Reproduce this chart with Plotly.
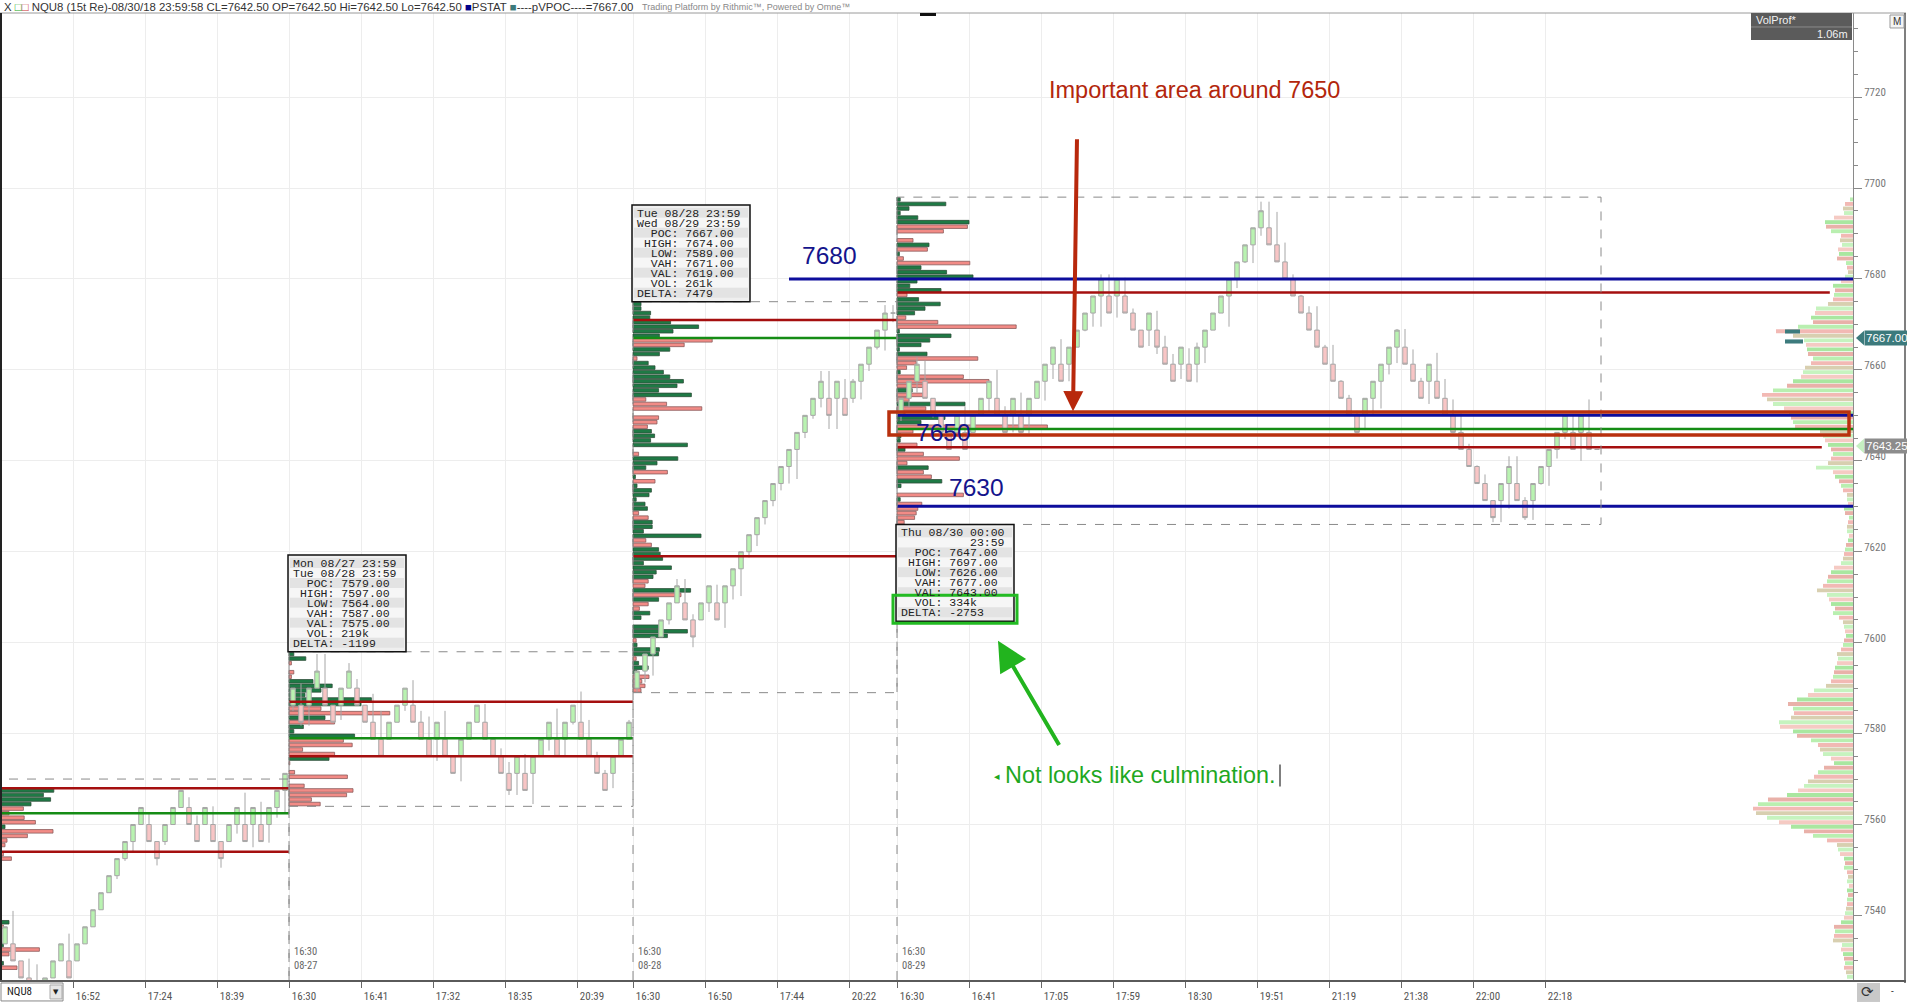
import plotly.graph_objects as go

# picture frame: 8 px per renko bar, 4.556 px per point
W, H = 1907, 1004
ML, MR, MT, MB = 1, 54, 13, 22
PW, PH = W - ML - MR, H - MT - MB
X_MAX = PW / 8.0
Y_MIN, Y_MAX = 7525.8, 7738.5
PT = PH / (Y_MAX - Y_MIN)

NARROW = 'Liberation Sans Narrow, Arial Narrow, Roboto Condensed, Liberation Sans, sans-serif'
SANS = 'Liberation Sans, Arial, sans-serif'
MONO = 'Liberation Mono, Courier New, monospace'


def dx(px):
    return (px - ML) / PW * X_MAX


def dy(py):
    return Y_MAX - (py - MT) / PT


def ppx(px):
    return (px - ML) / PW


def ppy(py):
    return (H - MB - py) / PH


# ---- NQU8 15 tick renko bricks
opens = [
    7533.75, 7533.75, 7530, 7526.25, 7522.5, 7522.5, 7526.25, 7530, 7530, 7530, 7533.75, 7537.5, 7541.25, 7545,
    7548.75, 7552.5, 7556.25, 7560, 7560, 7556.25, 7556.25, 7560, 7563.75, 7563.75, 7560, 7560, 7560, 7556.25,
    7556.25, 7560, 7560, 7560, 7560, 7560, 7563.75, 7567.5,
    7586.25, 7586.25, 7586.25, 7590, 7590, 7586.25, 7586.25, 7590, 7590, 7586.25, 7582.5, 7578.75, 7578.75, 7582.5,
    7586.25, 7586.25, 7582.5, 7578.75, 7578.75, 7578.75, 7575, 7575, 7578.75, 7582.5, 7582.5, 7578.75, 7575, 7571.25,
    7571.25, 7571.25, 7571.25, 7575, 7578.75, 7578.75, 7578.75, 7582.5, 7582.5, 7578.75, 7575, 7571.25, 7571.25,
    7575, 7578.75,
    7590, 7593.75, 7597.5, 7601.25, 7605, 7608.75, 7608.75, 7605, 7605, 7608.75, 7608.75, 7608.75, 7612.5, 7616.25,
    7620, 7623.75, 7627.5, 7631.25, 7635, 7638.75, 7642.5, 7646.25, 7650, 7653.75, 7653.75, 7653.75, 7653.75,
    7653.75, 7657.5, 7661.25, 7665, 7668.75, 7672.5,
    7650, 7653.75, 7657.5, 7657.5, 7653.75, 7650, 7646.25, 7646.25, 7646.25, 7646.25, 7650, 7653.75, 7653.75, 7650,
    7650, 7650, 7650, 7653.75, 7657.5, 7661.25, 7661.25, 7661.25, 7665, 7668.75, 7672.5, 7676.25, 7676.25, 7676.25,
    7676.25, 7672.5, 7668.75, 7668.75, 7668.75, 7665, 7661.25, 7661.25, 7661.25, 7661.25, 7665, 7668.75, 7672.5,
    7676.25, 7680, 7683.75, 7687.5, 7691.25, 7691.25, 7687.5, 7683.75, 7680, 7676.25, 7672.5, 7668.75, 7665,
    7661.25, 7657.5, 7653.75, 7650, 7650, 7653.75, 7657.5, 7661.25, 7665, 7665, 7661.25, 7657.5, 7657.5, 7657.5,
    7653.75, 7650, 7646.25, 7642.5, 7638.75, 7635, 7631.25, 7631.25, 7635, 7635, 7631.25, 7631.25, 7635, 7638.75,
    7642.5, 7646.25, 7646.25, 7646.25, 7646.25, 7642.5,
]
closes = [
    7537.5, 7530, 7526.25, 7522.5, 7518.75, 7526.25, 7530, 7533.75, 7526.25, 7533.75, 7537.5, 7541.25, 7545, 7548.75,
    7552.5, 7556.25, 7560, 7563.75, 7556.25, 7552.5, 7560, 7563.75, 7567.5, 7560, 7556.25, 7563.75, 7556.25, 7552.5,
    7560, 7563.75, 7556.25, 7563.75, 7556.25, 7563.75, 7567.5, 7571.25,
    7590, 7582.5, 7590, 7593.75, 7586.25, 7582.5, 7590, 7593.75, 7586.25, 7582.5, 7578.75, 7575, 7582.5, 7586.25,
    7590, 7582.5, 7578.75, 7575, 7582.5, 7575, 7571.25, 7578.75, 7582.5, 7586.25, 7578.75, 7575, 7571.25, 7567.5,
    7575, 7567.5, 7575, 7578.75, 7582.5, 7575, 7582.5, 7586.25, 7578.75, 7575, 7571.25, 7567.5, 7575, 7578.75,
    7582.5,
    7593.75, 7597.5, 7601.25, 7605, 7608.75, 7612.5, 7605, 7601.25, 7608.75, 7612.5, 7605, 7612.5, 7616.25, 7620,
    7623.75, 7627.5, 7631.25, 7635, 7638.75, 7642.5, 7646.25, 7650, 7653.75, 7657.5, 7650, 7657.5, 7650, 7657.5,
    7661.25, 7665, 7668.75, 7672.5, 7672.5,
    7653.75, 7657.5, 7661.25, 7653.75, 7650, 7646.25, 7642.5, 7650, 7642.5, 7650, 7653.75, 7657.5, 7650, 7646.25,
    7653.75, 7646.25, 7653.75, 7657.5, 7661.25, 7665, 7657.5, 7665, 7668.75, 7672.5, 7676.25, 7680, 7672.5, 7680,
    7672.5, 7668.75, 7665, 7672.5, 7665, 7661.25, 7657.5, 7665, 7657.5, 7665, 7668.75, 7672.5, 7676.25, 7680,
    7683.75, 7687.5, 7691.25, 7695, 7687.5, 7683.75, 7680, 7676.25, 7672.5, 7668.75, 7665, 7661.25, 7657.5,
    7653.75, 7650, 7646.25, 7653.75, 7657.5, 7661.25, 7665, 7668.75, 7661.25, 7657.5, 7653.75, 7661.25, 7653.75,
    7650, 7646.25, 7642.5, 7638.75, 7635, 7631.25, 7627.5, 7635, 7638.75, 7631.25, 7627.5, 7635, 7638.75, 7642.5,
    7646.25, 7650, 7642.5, 7650, 7642.5, 7642.5,
]
highs = [
    7537.5, 7541, 7530, 7530.5, 7529.25, 7526.25, 7530, 7533.75, 7536, 7533.75, 7537.5, 7541.25, 7545, 7548.75,
    7552.5, 7556.25, 7560, 7563.75, 7562.5, 7556.25, 7560, 7563.75, 7567.5, 7566, 7562, 7563.75, 7564, 7556.25,
    7560, 7563.75, 7567, 7563.75, 7565, 7563.75, 7567.5, 7571.25,
    7590, 7591, 7590, 7597.5, 7597.5, 7586.25, 7590, 7595.5, 7592, 7586.25, 7588.75, 7585, 7582.5, 7586.25, 7590,
    7591.75, 7585, 7583.75, 7582.5, 7585, 7575, 7578.75, 7582.5, 7586.25, 7586.5, 7578.75, 7576.75, 7573.75, 7575,
    7575.5, 7575, 7578.75, 7582.5, 7585.5, 7582.5, 7586.25, 7589.25, 7583, 7576, 7572, 7575, 7578.75, 7583,
    7593.75, 7597.5, 7601.25, 7605, 7608.75, 7614, 7614, 7606.25, 7608.75, 7612.5, 7612.75, 7612.5, 7616.25, 7620,
    7623.75, 7627.5, 7631.25, 7635, 7638.75, 7642.5, 7646.25, 7650, 7653.75, 7659.75, 7659.75, 7657.5, 7658, 7658,
    7661.25, 7665, 7668.75, 7674.25, 7674.25,
    7653.75, 7657.5, 7662.75, 7662, 7653.75, 7650, 7648, 7650, 7652, 7650, 7653.75, 7657.5, 7660, 7652, 7653.75,
    7655, 7653.75, 7657.5, 7661.25, 7665, 7666.75, 7665, 7668.75, 7672.5, 7676.25, 7681, 7681, 7680.25, 7680.25,
    7673.5, 7668.75, 7672.5, 7673, 7667.5, 7663.5, 7665, 7664.75, 7666, 7668.75, 7672.5, 7676.25, 7680, 7683.75,
    7687.5, 7691.25, 7697, 7697, 7694.75, 7688, 7681, 7676.5, 7674, 7674, 7665.5, 7665.5, 7657.75, 7654.5, 7651,
    7653.75, 7657.5, 7661.25, 7665, 7669, 7669, 7664.5, 7658.25, 7661.25, 7663.75, 7658, 7653.5, 7650.5, 7643.75,
    7639, 7637, 7631.25, 7635, 7641, 7641, 7632, 7635, 7638.75, 7642.5, 7646.25, 7650, 7650, 7650, 7653.5, 7642.5,
]
lows = [
    7533.75, 7530, 7526.25, 7522.5, 7518.75, 7522.5, 7526.25, 7530, 7526.25, 7530, 7533.75, 7537.5, 7541.25, 7545,
    7548, 7552, 7554, 7560, 7556.25, 7551, 7555.5, 7560, 7563.75, 7560, 7556.25, 7560, 7556.25, 7550.5, 7556.25,
    7558, 7556.25, 7555, 7556.25, 7556, 7561.5, 7562.5,
    7585, 7581.75, 7581.75, 7590, 7586.25, 7582.5, 7583, 7590, 7586.25, 7582.5, 7578.75, 7575, 7578.75, 7582.5, 7585,
    7582.5, 7578.75, 7575, 7574, 7575, 7571.25, 7569.5, 7578.75, 7582.5, 7578.75, 7575, 7571.25, 7566.5, 7566.5,
    7567.5, 7564.5, 7575, 7576.25, 7575, 7575.25, 7582, 7578.75, 7575, 7571.25, 7567.5, 7568, 7575, 7578.75,
    7589, 7591.25, 7592.75, 7601.25, 7604, 7608.75, 7605, 7599, 7605, 7606.75, 7605, 7603.25, 7609.5, 7610.25,
    7618.75, 7621.25, 7626, 7630, 7633.5, 7635, 7636, 7645, 7649.25, 7651.75, 7647, 7647, 7650, 7652.75, 7653.5,
    7659.75, 7664.5, 7664.25, 7670.5,
    7648.75, 7651.75, 7655, 7653.75, 7649.5, 7646.25, 7642.5, 7646.25, 7642.5, 7646.25, 7650, 7650.5, 7650, 7646.25,
    7646.25, 7646, 7646, 7653.75, 7653.25, 7658, 7657.5, 7657.5, 7665, 7668.5, 7669.5, 7669.5, 7672.5, 7671.5,
    7672.5, 7668.75, 7665, 7665.25, 7663.5, 7661.25, 7657.5, 7658, 7657.5, 7657.25, 7661.5, 7668.75, 7672.5, 7669.5,
    7678, 7683.5, 7683.5, 7689.5, 7687.5, 7683.75, 7680, 7676.25, 7672.5, 7668.75, 7665, 7661.25, 7657.5, 7653.75,
    7650, 7646, 7646.75, 7650, 7651.5, 7659, 7661.5, 7661.25, 7657.5, 7653.75, 7652.5, 7653.75, 7650, 7646, 7642.5,
    7638.75, 7635, 7631.25, 7626.5, 7626.5, 7629.5, 7631.25, 7627, 7627, 7634.75, 7634.5, 7640.5, 7644.75, 7642.5,
    7640, 7642.5, 7642.5,
]

# ---- sessions
sess_start = [0, 36, 79, 112]
sess_end = [36, 79, 112, 200]
sess_high = [7569, 7597, 7674, 7697]
sess_low = [7518.75, 7564, 7589, 7626]
sess_vah = [7568, 7587, 7671, 7677]
sess_poc = [7562.5, 7579, 7667, 7647]
sess_val = [7554, 7575, 7619, 7643]
sess_vol = ['', '219k', '261k', '334k']
sess_delta = ['', '-1199', '7479', '-2753']
sess_from = ['', 'Mon 08/27 23:59', 'Tue 08/28 23:59', 'Thu 08/30 00:00']
sess_to = ['', 'Tue 08/28 23:59', 'Wed 08/29 23:59', '23:59']
sess_date = ['', '08-27', '08-28', '08-29']

# session volume profiles, one value per point from the top price down (+ buy side, - sell side)
prof_top = [7567, 7597, 7674, 7697]
prof_1 = [6.6, 5.3, 6.2, 3.75, -2.8, -1.0, -2.9, -4.3, 0.5, -6.5, -3.3, -0.75, -0.5, 0, -0.3, -1.3,
          0, 0, 0, 0, 0, 0, 0, 0, 0, 0, 0, 0, 0,
          1.0, -0.3, 0, 0, 0, 0.3, -4.8, -1.0, 0, 0.3, -2.0, 0]
prof_2 = [0.6, 2.1, -0.3, 0, -0.6, -0.3, 3.0, 5.4, 4.0, 2.0, 10.3, 9.0, -4.0, -12.6, 4.5, -5.7, 1.8, 0.6, 8.2,
          -6.8, -7.9, -1.7, -5.7, 5.0, -0.1, 0, -0.7, -7.3, 0, -1.9, -8.0, -7.2, -2.8, -3.9]
prof_3 = [1.0, 1.0, 2.2, 2.1, 4.7, 8.2, 5.0, 3.3, -9.9, -6.4, 4.6, 3.3, -0.5, 1.9, 2.75, 3.8, 4.6, 6.3, 5.5, 3.2,
          7.3, -1.6, -4.2, -8.6, 0, -3.2, -3.0, -1.8, 2.3, 2.7, 2.2, 6.8, 0, -0.7, 5.6, 3.0, 1.6, -4.3, 0.3, -2.75,
          0.5, 2.3, 2.0, 0.4, 1.5, 1.8,
          -0.7, -1.9, 2.4, 2.4, 1.3, 8.5, -1.6, -2.3, 3.2, 3.4, 3.7, 1.3, 4.8, 2.9, 2.5, -1.9, -1.5, 7.2, -6.0, 3.2,
          -1.9, -0.8, 2.1, 1.0, 0, 3.5, 6.8, 4.3, -0.4, 0.5, 3.3, 3.2, -0.4, 0.7, 1.9, 0.5, -2.0, -1.1, -1.5, -1.0]
prof_4 = [0.4, 6.1, 1.5, 0.4, 2.6, 9.0, -8.8, -5.8, 0, -2.0, 4.0, -3.8, 0.3, -0.8, -9.1, 3.0, 6.2, 9.5, 2.5, 1.6,
          5.5, -1.25, 2.7, 5.4, 3.5, 2.2, -1.1, -5.1, -14.9, 0.3, 6.75, 4.1, 3.0, 0.3, 3.75, -10.1, -2.4, -1.2, 0.4,
          -8.3, -11.5, -3.3, 1.9, -3.5, -1.5, 8.5, -3.6, -1.0, 6.0, 3.0, -18.8, -2.0, 0.5, 0.4, -2.5, 1.0, -3.3,
          -7.8, -1.25, 3.9, -3.3, -4.3, 5.6, 0.5, 0, -8.3, 0.4, -3.1, -2.6, -2.4, -2.2, -0.9]

# composite VolProf, 7697 down to 7526
comp_top = 7697
comp_vol = [3, 8, 10, 9, 19, 28, 27, 22, 12, 13, 11, 15, 14, 16, 7, 6, 5, 8, 12, 20,
            18, 19, 20, 25, 37, 38, 42, 40, 55, 77, 60, 49, 47, 46, 45, 40, 42, 48, 50, 52,
            60, 66, 80, 91, 86, 80, 69, 64, 62, 60, 58, 33, 30, 28, 25, 22, 20, 22, 25, 37,
            20, 18, 14, 12, 10, 6, 6, 5, 9, 8, 4, 5, 6, 6, 4, 5, 7, 8, 9, 10,
            12, 19, 22, 25, 26, 30, 36, 26, 24, 22, 18, 20, 14, 10, 9, 8, 7, 9, 10, 12,
            16, 15, 16, 18, 19, 20, 22, 27, 39, 45, 56, 65, 60, 59, 62, 74, 73, 60, 56, 42,
            35, 33, 30, 22, 19, 29, 35, 39, 45, 49, 55, 66, 85, 95, 100, 97, 86, 74, 62, 49,
            40, 26, 16, 15, 13, 9, 8, 9, 6, 5, 6, 4, 6, 5, 6, 6, 7, 8, 9, 12,
            19, 18, 19, 20, 11, 12, 10, 9, 8, 9, 7, 6]

key_levels = [7680, 7650, 7630]
key_from = [98.5, 112, 112]
pvpoc = 7667.00
last_tag = 7643.25

tick_pos = [9, 18, 27, 36, 45, 54, 63, 72, 79, 88, 97, 106, 112, 121, 130, 139, 148, 157, 166, 175, 184, 193]
tick_text = ['16:52', '17:24', '18:39', '16:30', '16:41', '17:32', '18:35', '20:39', '16:30', '16:50', '17:44',
             '20:22', '16:30', '16:41', '17:05', '17:59', '18:30', '19:51', '21:19', '21:38', '22:00', '22:18']

fig = go.Figure()

# session profiles
for s, vals in enumerate([prof_1, prof_2, prof_3, prof_4]):
    ys, xs, fills, edges = [], [], [], []
    for j, v in enumerate(vals):
        if v == 0:
            continue
        ys.append(prof_top[s] - j + 0.5)
        xs.append(abs(v))
        fills.append('#1e7a45' if v > 0 else '#f28b86')
        edges.append('#2e4f3a' if v > 0 else '#8a5a5a')
    fig.add_trace(go.Bar(orientation='h', y=ys, x=xs, base=sess_start[s], width=0.78,
                         marker=dict(color=fills, line=dict(color=edges, width=0.8)),
                         hoverinfo='skip', showlegend=False))

fig.add_trace(go.Candlestick(
    x=[i + 0.5 for i in range(len(opens))], open=opens, high=highs, low=lows, close=closes,
    increasing=dict(fillcolor='#b9f3b1', line=dict(color='#a6a6a6', width=1)),
    decreasing=dict(fillcolor='#f8c5c5', line=dict(color='#a6a6a6', width=1)),
    whiskerwidth=0, hoverinfo='skip', showlegend=False))

# value area lines
vah_end = [36, 79, 112, 228.6]
val_end = [36, 79, 112, 227.6]
poc_end = [36, 79, 112, X_MAX]
rx, ry, gx, gy = [], [], [], []
for s in range(4):
    rx += [sess_start[s], vah_end[s], None, sess_start[s], val_end[s], None]
    ry += [sess_vah[s], sess_vah[s], None, sess_val[s], sess_val[s], None]
    gx += [sess_start[s], poc_end[s], None]
    gy += [sess_poc[s], sess_poc[s], None]
fig.add_trace(go.Scatter(x=rx, y=ry, mode='lines', line=dict(color='#a50f0f', width=2.5),
                         hoverinfo='skip', showlegend=False))

comp_cols = ['#b9efb0', '#f2b9b4', '#d8cfb0', '#c6f3bf', '#f5cac3', '#a9e7a0', '#e9b1a9']
fig.add_trace(go.Bar(orientation='h', y=[comp_top - j + 0.5 for j in range(len(comp_vol))],
                     x=[-v / 8.0 for v in comp_vol], base=X_MAX, width=0.85,
                     marker=dict(color=[comp_cols[j % len(comp_cols)] for j in range(len(comp_vol))],
                                 line=dict(width=0)),
                     hoverinfo='skip', showlegend=False))

fig.add_trace(go.Scatter(x=gx, y=gy, mode='lines', line=dict(color='#158c15', width=2.5),
                         hoverinfo='skip', showlegend=False))

bx, by = [], []
for lvl, x0 in zip(key_levels, key_from):
    bx += [x0, X_MAX, None]
    by += [lvl, lvl, None]
fig.add_trace(go.Scatter(x=bx, y=by, mode='lines', line=dict(color='#0d0d9c', width=3),
                         hoverinfo='skip', showlegend=False))

shapes = []
annos = []

# dashed session boxes
for s in range(4):
    shapes.append(dict(type='rect', xref='x', yref='y', x0=sess_start[s], x1=sess_end[s],
                       y0=sess_low[s], y1=sess_high[s] + 1, line=dict(color='#8a8a8a', width=1, dash='dash'),
                       layer='above'))
    if s > 0:
        shapes.append(dict(type='line', xref='x', yref='y', x0=sess_start[s], x1=sess_start[s],
                           y0=Y_MIN, y1=sess_high[s] + 1, line=dict(color='#8a8a8a', width=1, dash='dash'),
                           layer='above'))
        annos.append(dict(x=sess_start[s] + 0.35, y=7534, xref='x', yref='y', xanchor='left', yanchor='top',
                          text='16:30<br>' + sess_date[s], showarrow=False, align='left',
                          font=dict(family=NARROW, size=10.5, color='#666')))

# session info boxes
for s in (1, 2, 3):
    left = ML + 8 * sess_start[s] - 1
    if s < 3:
        top = MT + (Y_MAX - (sess_high[s] + 1)) * PT - 97
    else:
        top = MT + (Y_MAX - sess_low[s]) * PT
    rows = [sess_from[s], sess_to[s].rjust(15),
            '  POC: %.2f' % sess_poc[s], ' HIGH: %.2f' % sess_high[s], '  LOW: %.2f' % sess_low[s],
            '  VAH: %.2f' % sess_vah[s], '  VAL: %.2f' % sess_val[s], '  VOL: ' + sess_vol[s],
            'DELTA: ' + sess_delta[s]]
    shapes.append(dict(type='rect', xref='x', yref='y', x0=dx(left), x1=dx(left + 118), y0=dy(top),
                       y1=dy(top + 97), fillcolor='#efefef', line=dict(color='#111', width=1.5), layer='above'))
    for j, row in enumerate(rows):
        shapes.append(dict(type='rect', xref='x', yref='y', x0=dx(left + 2), x1=dx(left + 116),
                           y0=dy(top + 3 + 10 * j), y1=dy(top + 13 + 10 * j),
                           fillcolor='#e3e3e3' if j % 2 == 0 else '#f6f6f6', line=dict(width=0), layer='above'))
        annos.append(dict(x=dx(left + 3), y=dy(top + 8.3 + 10 * j), xref='x', yref='y', xanchor='left',
                          yanchor='middle', text=row.replace(' ', '\u00a0'), showarrow=False,
                          font=dict(family=MONO, size=11.5, color='#222')))
    if s == 3:
        shapes.append(dict(type='rect', xref='x', yref='y', x0=dx(left - 3), x1=dx(left + 121),
                           y0=dy(top + 71), y1=dy(top + 99), line=dict(color='#22bb22', width=3), layer='above'))

# important area box
shapes.append(dict(type='rect', xref='x', yref='y', x0=dx(889), x1=dx(1849), y0=7645.65, y1=7650.75,
                   line=dict(color='#b8300e', width=3.5), layer='above'))
# text cursor
shapes.append(dict(type='line', xref='x', yref='y', x0=dx(1280), x1=dx(1280), y0=dy(766), y1=dy(788),
                   line=dict(color='#555', width=1.5)))
# pVPOC marks in composite
shapes.append(dict(type='rect', xref='x', yref='y', x0=dx(1785), x1=dx(1800), y0=7668.0, y1=7668.9,
                   fillcolor='#3d7b7d', line=dict(width=0), layer='above'))
shapes.append(dict(type='rect', xref='x', yref='y', x0=dx(1785), x1=dx(1803), y0=7665.8, y1=7666.7,
                   fillcolor='#3d7b7d', line=dict(width=0), layer='above'))

# frame and chrome
shapes += [
    dict(type='line', xref='paper', yref='paper', x0=ppx(0), x1=ppx(1906), y0=ppy(13), y1=ppy(13),
         line=dict(color='#9a9a9a', width=1)),
    dict(type='line', xref='paper', yref='paper', x0=ppx(1), x1=ppx(1), y0=ppy(13), y1=ppy(983),
         line=dict(color='#222', width=2)),
    dict(type='line', xref='paper', yref='paper', x0=ppx(1905), x1=ppx(1905), y0=ppy(13), y1=ppy(985),
         line=dict(color='#555', width=1.5)),
    dict(type='line', xref='paper', yref='paper', x0=ppx(0), x1=ppx(1906), y0=ppy(983), y1=ppy(983),
         line=dict(color='#5a5a5a', width=2)),
    dict(type='rect', xref='paper', yref='paper', x0=ppx(920), x1=ppx(936), y0=ppy(13), y1=ppy(16),
         fillcolor='#111', line=dict(width=0)),
    dict(type='rect', xref='paper', yref='paper', x0=ppx(1751), x1=ppx(1852), y0=ppy(13), y1=ppy(40),
         fillcolor='#5b5b5b', line=dict(width=0)),
    dict(type='line', xref='paper', yref='paper', x0=ppx(1751), x1=ppx(1852), y0=ppy(27), y1=ppy(27),
         line=dict(color='#8a8a8a', width=1)),
    dict(type='rect', xref='paper', yref='paper', x0=ppx(1890), x1=ppx(1904), y0=ppy(15), y1=ppy(28),
         fillcolor='#f4f4f4', line=dict(color='#999', width=1)),
    dict(type='rect', xref='paper', yref='paper', x0=ppx(1), x1=ppx(63), y0=ppy(985), y1=ppy(1003),
         fillcolor='white', line=dict(color='#888', width=1)),
    dict(type='rect', xref='paper', yref='paper', x0=ppx(50), x1=ppx(62), y0=ppy(987), y1=ppy(1001),
         fillcolor='#e6e6e6', line=dict(color='#aaa', width=1)),
    dict(type='rect', xref='paper', yref='paper', x0=ppx(1857), x1=ppx(1880), y0=ppy(985), y1=ppy(1004),
         fillcolor='#c8c8c8', line=dict(width=0)),
    dict(type='path', xref='paper', yref='y',
         path='M %f,%f L %f,%f L %f,%f Z' % (ppx(1856), pvpoc, ppx(1864), pvpoc + 1.6, ppx(1864), pvpoc - 1.6),
         fillcolor='#3c7a7c', line=dict(width=0)),
    dict(type='path', xref='paper', yref='y',
         path='M %f,%f L %f,%f L %f,%f Z' % (ppx(1856), last_tag, ppx(1864), last_tag + 1.6, ppx(1864),
                                            last_tag - 1.6),
         fillcolor='#c6efc2', line=dict(width=0)),
]

annos += [
    dict(x=ppx(2), y=ppy(6.5), xref='paper', yref='paper', xanchor='left', yanchor='middle', showarrow=False,
         text='<span style="color:#333">X</span> <span style="color:#2a2">\u25a1</span>'
              '<span style="color:#c33">\u25a1</span> NQU8 (15t Re)-08/30/18 23:59:58 CL=7642.50 OP=7642.50 '
              'Hi=7642.50 Lo=7642.50 <span style="color:#00008b">\u25a0</span>PSTAT '
              '<span style="color:#3c7a7c">\u25a0</span>----pVPOC----=%.2f' % pvpoc,
         font=dict(family=SANS, size=11.4, color='#333')),
    dict(x=ppx(640), y=ppy(6.5), xref='paper', yref='paper', xanchor='left', yanchor='middle', showarrow=False,
         text='Trading Platform by Rithmic\u2122, Powered by Omne\u2122',
         font=dict(family=SANS, size=9, color='#888')),
    dict(x=ppx(1754), y=ppy(20), xref='paper', yref='paper', xanchor='left', yanchor='middle', showarrow=False,
         text='VolProf*', font=dict(family=SANS, size=11, color='#f2f2f2')),
    dict(x=ppx(1850), y=ppy(34), xref='paper', yref='paper', xanchor='right', yanchor='middle', showarrow=False,
         text='1.06m', font=dict(family=SANS, size=11, color='#f2f2f2')),
    dict(x=ppx(1897), y=ppy(21.5), xref='paper', yref='paper', xanchor='center', yanchor='middle',
         showarrow=False, text='M', font=dict(family=SANS, size=10, color='#333')),
    dict(x=ppx(1864), y=pvpoc, xref='paper', yref='y', xanchor='left', yanchor='middle', showarrow=False,
         text='%.2f' % pvpoc, bgcolor='#3c7a7c', borderpad=1, font=dict(family=SANS, size=11.5, color='white')),
    dict(x=ppx(1864), y=last_tag, xref='paper', yref='y', xanchor='left', yanchor='middle', showarrow=False,
         text='%.2f' % last_tag, bgcolor='#8c8c8c', borderpad=1,
         font=dict(family=SANS, size=11.5, color='white')),
    dict(x=ppx(5), y=ppy(994), xref='paper', yref='paper', xanchor='left', yanchor='middle', showarrow=False,
         text='NQU8', font=dict(family=NARROW, size=11, color='#222')),
    dict(x=ppx(56), y=ppy(994), xref='paper', yref='paper', xanchor='center', yanchor='middle', showarrow=False,
         text='\u25bc', font=dict(family='DejaVu Sans', size=7, color='#222')),
    dict(x=ppx(1868), y=ppy(994), xref='paper', yref='paper', xanchor='center', yanchor='middle',
         showarrow=False, text='\u27f3', font=dict(family='DejaVu Sans', size=15, color='#333')),
    dict(x=ppx(1893), y=ppy(994), xref='paper', yref='paper', xanchor='center', yanchor='middle',
         showarrow=False, text='-', font=dict(family=NARROW, size=11, color='#333')),
    # chart notes
    dict(x=dx(1194), y=dy(90), xref='x', yref='y', showarrow=False, text='Important area around 7650',
         font=dict(family=SANS, size=23.5, color='#b3260c')),
    dict(x=dx(1073), y=dy(412), ax=dx(1077), ay=dy(138), xref='x', yref='y', axref='x', ayref='y', text='',
         showarrow=True, arrowhead=2, arrowsize=1, arrowwidth=4, arrowcolor='#b8280c'),
    dict(x=dx(998), y=dy(642), ax=dx(1060), ay=dy(748), xref='x', yref='y', axref='x', ayref='y', text='',
         showarrow=True, arrowhead=2, arrowsize=1.5, arrowwidth=4, arrowcolor='#22b41e'),
    dict(x=dx(1003), y=dy(777), xref='x', yref='y', xanchor='left', showarrow=False,
         text='Not looks like culmination.', font=dict(family=SANS, size=23.4, color='#1fa81f')),
    dict(x=dx(997), y=dy(778), xref='x', yref='y', xanchor='center', showarrow=False,
         text='\u25c2', font=dict(family='DejaVu Sans', size=11, color='#1fa81f')),
]
level_txt_pos = [(829, 256), (943, 433), (976, 488)]
for lvl, (px, py) in zip(key_levels, level_txt_pos):
    annos.append(dict(x=dx(px), y=dy(py), xref='x', yref='y', showarrow=False, text=str(lvl),
                      font=dict(family=SANS, size=24.5, color='#14148c')))

fig.update_layout(
    width=W, height=H, margin=dict(l=ML, r=MR, t=MT, b=MB, pad=0),
    paper_bgcolor='white', plot_bgcolor='white', barmode='overlay', boxgap=0.2, showlegend=False,
    font=dict(family=NARROW, size=11, color='#555'),
    shapes=shapes, annotations=annos,
    xaxis=dict(range=[0, X_MAX], tickmode='array', tickvals=tick_pos, ticktext=tick_text, showgrid=True,
               gridcolor='#ededed', zeroline=False, showline=True, linecolor='#5a5a5a', linewidth=2,
               ticks='outside', ticklen=6, tickcolor='#666', ticklabelshift=15, ticklabelstandoff=-1,
               tickfont=dict(family=NARROW, size=11, color='#555'),
               rangeslider=dict(visible=False), fixedrange=True),
    yaxis=dict(range=[Y_MIN, Y_MAX], side='right', tick0=7520, dtick=20, showgrid=True, gridcolor='#ededed',
               zeroline=False, showline=True, linecolor='#8a8a8a', ticks='outside', ticklen=8,
               tickcolor='#8a8a8a', ticklabelshift=-5, tickfont=dict(family=NARROW, size=11, color='#777'),
               minor=dict(tick0=7520, dtick=5, ticks='outside', ticklen=4, tickcolor='#8a8a8a', showgrid=False),
               fixedrange=True),
)

# the page keeps the browser's default 8px body margin otherwise
fig.write_html('out.html', config={'displayModeBar': False},
               post_script="document.body.style.margin='0';document.body.style.overflow='hidden';")
